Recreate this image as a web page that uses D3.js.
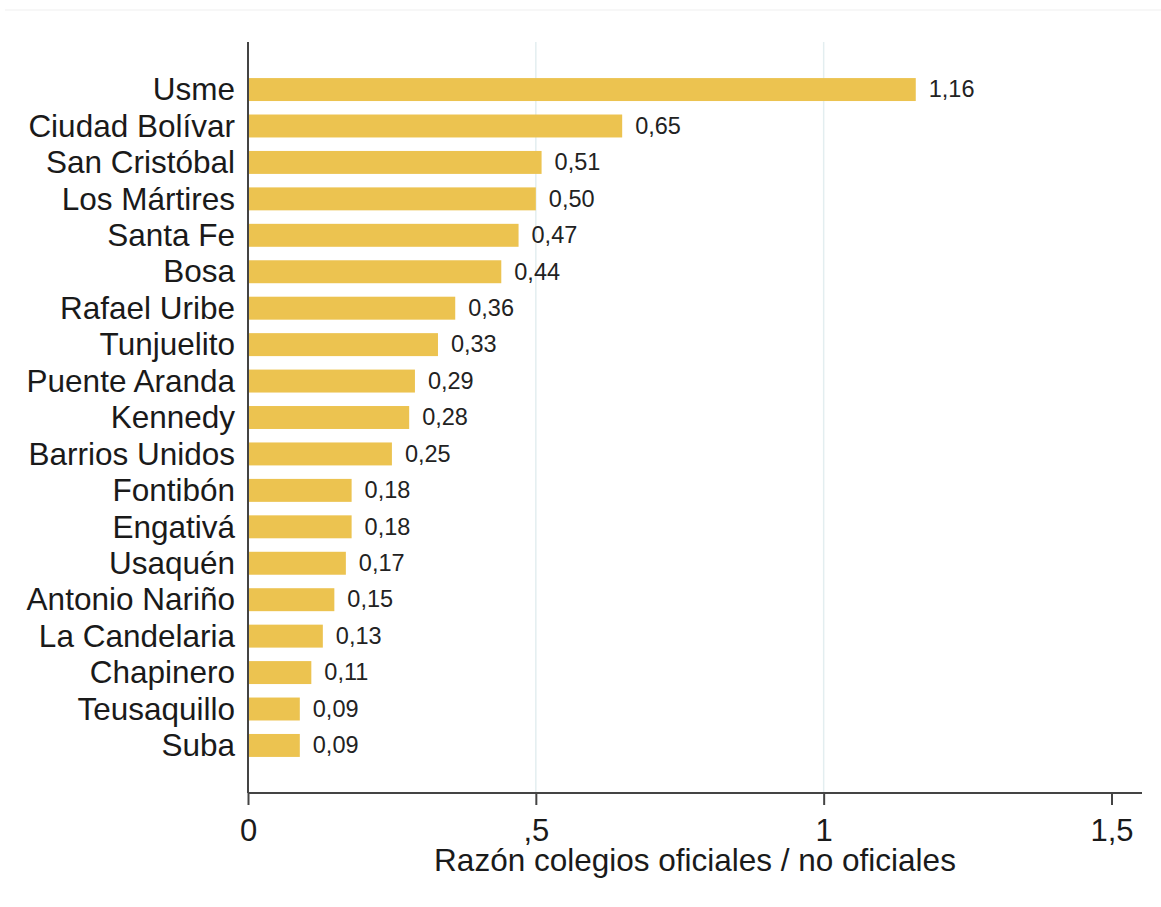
<!DOCTYPE html>
<html>
<head>
<meta charset="utf-8">
<script src="https://cdn.jsdelivr.net/npm/d3@7"></script>
<style>
  body { margin: 0; background: #fff; }
  svg { display: block; font-family: "Liberation Sans", Arial, sans-serif; }
</style>
</head>
<body>
<svg width="1161" height="907"></svg>
<script>
// localidades, sorted as in the original figure
const localidades = ['Usme', 'Ciudad Bolívar', 'San Cristóbal', 'Los Mártires', 'Santa Fe', 'Bosa',
  'Rafael Uribe', 'Tunjuelito', 'Puente Aranda', 'Kennedy', 'Barrios Unidos', 'Fontibón',
  'Engativá', 'Usaquén', 'Antonio Nariño', 'La Candelaria', 'Chapinero', 'Teusaquillo', 'Suba'];
const razon = [1.16, 0.65, 0.51, 0.50, 0.47, 0.44, 0.36, 0.33, 0.29, 0.28, 0.25, 0.18,
  0.18, 0.17, 0.15, 0.13, 0.11, 0.09, 0.09];
const xTicks = [0, 0.5, 1, 1.5];
const xTickLabels = ['0', ',5', '1', '1,5'];
const gridTicks = [0.5, 1];
const xTitle = 'Razón colegios oficiales / no oficiales';

const data = localidades.map((name, i) => ({name: name, value: razon[i]}));

const svg = d3.select('svg');
// plot area (named so they don't clash with window.top etc.)
const plotLeft = 248, plotRight = 1142, plotTop = 42, plotBottom = 793;

const x = d3.scaleLinear().domain([0, 1.553]).range([plotLeft, plotRight]);
const y = d3.scaleBand()
  .domain(localidades)
  .range([plotTop, plotBottom])
  .paddingInner(0.37)
  .paddingOuter(0.99);

const comma = (v) => d3.format('.2f')(v).replace('.', ',');

// faint frame line at the very top
svg.append('line')
  .attr('x1', 5).attr('x2', 1161)
  .attr('y1', 10).attr('y2', 10)
  .attr('stroke', '#f4f4f4')
  .attr('stroke-width', 1.5);

// vertical gridlines
svg.append('g')
  .selectAll('line')
  .data(gridTicks)
  .join('line')
    .attr('x1', (d) => x(d)).attr('x2', (d) => x(d))
    .attr('y1', plotTop).attr('y2', plotBottom)
    .attr('stroke', '#e3eef0')
    .attr('stroke-width', 1.5);

// bars
svg.append('g')
  .selectAll('rect')
  .data(data)
  .join('rect')
    .attr('x', x(0))
    .attr('y', (d) => y(d.name))
    .attr('width', (d) => x(d.value) - x(0))
    .attr('height', y.bandwidth())
    .attr('fill', '#ecc350');

// value labels
svg.append('g')
  .selectAll('text')
  .data(data)
  .join('text')
    .attr('x', (d) => x(d.value) + 13)
    .attr('y', (d) => y(d.name) + y.bandwidth() / 2)
    .attr('dy', '0.33em')
    .attr('font-size', 23.5)
    .attr('fill', '#222')
    .text((d) => comma(d.value));

// y axis (labels only, plus the axis line)
const yAxis = svg.append('g')
  .attr('transform', `translate(${plotLeft},0)`)
  .call(d3.axisLeft(y).tickSize(0).tickPadding(13));
yAxis.select('.domain').remove();
yAxis.selectAll('text')
  .attr('font-size', 31.5)
  .attr('fill', '#1a1a1a')
  .attr('dy', '0.34em');

svg.append('line')
  .attr('x1', plotLeft).attr('x2', plotLeft)
  .attr('y1', plotTop).attr('y2', plotBottom)
  .attr('stroke', '#444')
  .attr('stroke-width', 2);

// x axis
const xAxis = svg.append('g')
  .attr('transform', `translate(0,${plotBottom})`)
  .call(d3.axisBottom(x).tickValues(xTicks).tickSize(12).tickPadding(14)
    .tickFormat((d, i) => xTickLabels[i]));
xAxis.select('.domain')
  .attr('d', `M${plotLeft},0H${plotRight}`)
  .attr('stroke', '#444')
  .attr('stroke-width', 2);
xAxis.selectAll('.tick line')
  .attr('stroke', '#444')
  .attr('stroke-width', 2);
xAxis.selectAll('text')
  .attr('font-size', 31)
  .attr('fill', '#1a1a1a');

svg.append('text')
  .attr('x', (plotLeft + plotRight) / 2)
  .attr('y', 871)
  .attr('text-anchor', 'middle')
  .attr('font-size', 31.5)
  .attr('fill', '#1a1a1a')
  .text(xTitle);
</script>
</body>
</html>
